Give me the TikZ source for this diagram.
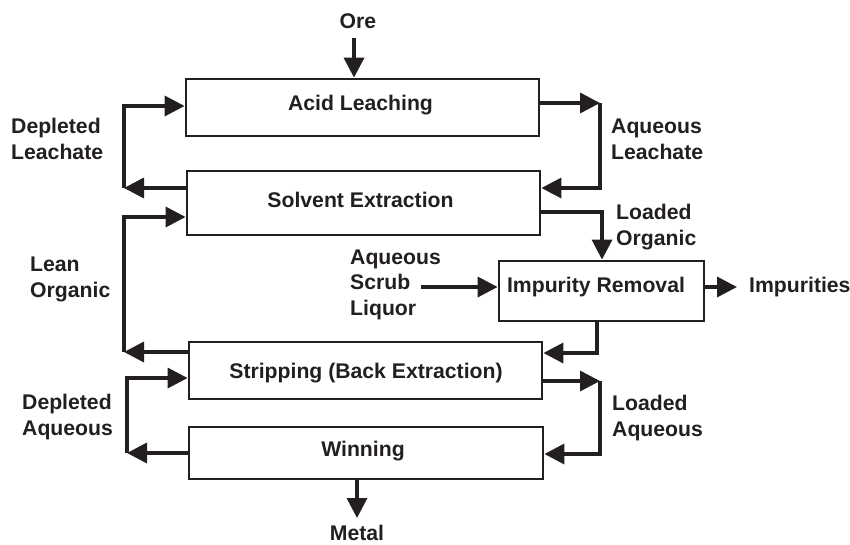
\documentclass[tikz,border=0pt]{standalone}
\usepackage{fontspec}
\setmainfont{Liberation Sans}
\usetikzlibrary{arrows.meta}
\definecolor{ink}{HTML}{231F20}
\begin{document}
\begin{tikzpicture}[x=1pt,y=-1pt,
  box/.style={draw=ink, line width=2.8pt, rectangle, inner sep=0pt},
  txt/.style={font=\fontsize{21.2}{25.5}\selectfont\bfseries, text=ink, inner sep=0pt},
  lbl/.style={txt, align=left, anchor=base west},
  flow/.style={draw=ink, line width=3.5pt, line join=miter,
    -{Triangle[length=20pt,width=20pt]}}]
\useasboundingbox (0,0) rectangle (850,544);

% process boxes
\node[box, minimum width=353pt, minimum height=57pt] (al) at (362.5,107.5) {};
\node[box, minimum width=353pt, minimum height=64pt] (se) at (363.5,203) {};
\node[box, minimum width=205pt, minimum height=60pt] (ir) at (601.5,291) {};
\node[box, minimum width=353pt, minimum height=57pt] (st) at (365.5,370.5) {};
\node[box, minimum width=354pt, minimum height=52pt] (wn) at (366,453) {};

% box texts
\node[txt, anchor=base] (alt) at (360.5,110) {Acid Leaching};
\node[txt, anchor=base] (set) at (360.5,207) {Solvent Extraction};
\node[txt, anchor=base] (irt) at (596,292) {Impurity Removal};
\node[txt, anchor=base] (stt) at (366,378) {Stripping (Back Extraction)};
\node[txt, anchor=base] (wnt) at (363,456) {Winning};

% stream labels (base anchor = baseline of the last line)
\node[txt, anchor=base] (ore) at (358,28) {Ore};
\node[txt, anchor=base] (metal) at (357,540) {Metal};
\node[lbl] (depl) at (11,159) {Depleted\\Leachate};
\node[lbl] (aql) at (611,159) {Aqueous\\Leachate};
\node[lbl] (lean) at (30,297) {Lean\\Organic};
\node[lbl] (lorg) at (616,245) {Loaded\\Organic};
\node[lbl] (scrub) at (350,315) {Aqueous\\Scrub\\Liquor};
\node[lbl] (imp) at (749,292) {Impurities};
\node[lbl] (dpaq) at (22,435) {Depleted\\Aqueous};
\node[lbl] (ldaq) at (612,436) {Loaded\\Aqueous};

% corner coordinates
\coordinate (oreS) at (354,38);
\coordinate (c1) at (600,103);
\coordinate (c2) at (600,188);
\coordinate (c3) at (124,188);
\coordinate (c4) at (124,106);
\coordinate (c5) at (602,212);
\coordinate (c6) at (124,352);
\coordinate (c7) at (124,217);
\coordinate (scS) at (421,287);
\coordinate (impE) at (737,287);
\coordinate (c8) at (597,353);
\coordinate (c9) at (600,381);
\coordinate (c10) at (600,454);
\coordinate (c11) at (127,453);
\coordinate (c12) at (127,378);
\coordinate (metE) at (357,518);

% connectors
\draw[flow] (oreS) -- (oreS |- al.north);
\draw[flow] (al.east |- c1) -- (c1);
\draw[flow] (c1) -- (c2) -- (se.east |- c2);
\draw[flow] (se.west |- c3) -- (c3);
\draw[flow] (c3) -- (c4) -- (al.west |- c4);
\draw[flow] (se.east |- c5) -- (c5) -- (c5 |- ir.north);
\draw[flow] (st.west |- c6) -- (c6);
\draw[flow] (c6) -- (c7) -- (se.west |- c7);
\draw[flow] (scS) -- (ir.west |- scS);
\draw[flow] (ir.east |- impE) -- (impE);
\draw[flow] (ir.south -| c8) -- (c8) -- (st.east |- c8);
\draw[flow] (st.east |- c9) -- (c9);
\draw[flow] (c9) -- (c10) -- (wn.east |- c10);
\draw[flow] (wn.west |- c11) -- (c11);
\draw[flow] (c11) -- (c12) -- (st.west |- c12);
\draw[flow] (wn.south -| metE) -- (metE);
\end{tikzpicture}
\end{document}
